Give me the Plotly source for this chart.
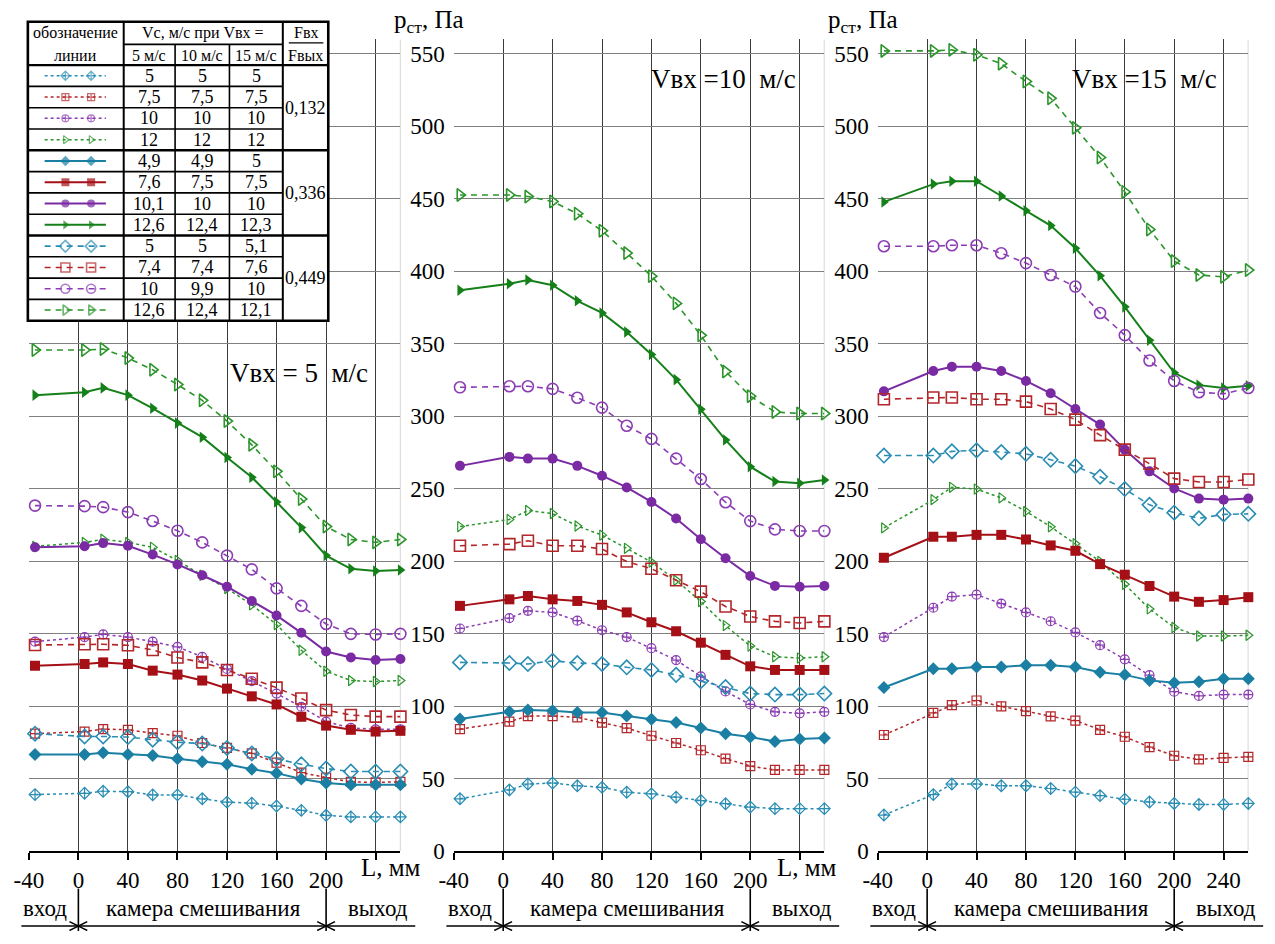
import plotly.graph_objects as go

W, H = 1275, 944
FONT = "Liberation Serif"

# measurement positions along the mixer, mm
L_MM = [-35, 5, 20, 40, 60, 80, 100, 120, 140, 160, 180, 200, 220, 240, 260]
X_TICKS = [-40, 0, 40, 80, 120, 160, 200, 240]
Y_TICKS = [0, 50, 100, 150, 200, 250, 300, 350, 400, 450, 500, 550]

# static pressure, Pa — inlet velocity 5 m/s
v5_f132_cyan = [39.0, 39.9, 41.3, 41.0, 38.8, 38.8, 36.1, 33.8, 33.1, 31.1, 28.1, 24.7, 23.6, 23.6, 23.6]
v5_f132_red = [81.0, 82.5, 84.2, 83.7, 81.4, 79.6, 74.6, 71.2, 67.4, 61.0, 54.2, 50.8, 47.8, 47.4, 47.8]
v5_f132_purple = [144.5, 147.7, 149.5, 147.7, 144.5, 140.9, 134.0, 125.7, 117.3, 108.7, 99.6, 89.4, 85.0, 84.0, 84.0]
v5_f132_green = [210.3, 213.0, 215.2, 213.0, 209.6, 200.5, 190.3, 181.2, 169.9, 156.3, 138.6, 124.1, 117.7, 117.0, 117.7]
v5_f336_cyan = [66.7, 66.7, 67.8, 66.7, 66.0, 63.8, 61.7, 59.9, 56.5, 53.8, 49.7, 47.0, 45.8, 45.8, 45.8]
v5_f336_red = [127.9, 129.1, 130.2, 129.1, 124.5, 121.8, 117.7, 112.1, 106.8, 101.2, 92.7, 86.6, 83.7, 82.5, 83.0]
v5_f336_purple = [209.6, 210.3, 212.5, 210.7, 204.6, 197.8, 190.3, 182.4, 172.6, 162.6, 150.6, 137.7, 133.6, 131.8, 132.5]
v5_f336_green = [314.6, 316.6, 319.6, 314.6, 305.5, 295.3, 285.6, 271.5, 257.9, 240.9, 223.2, 203.9, 194.8, 193.2, 193.9]
v5_f449_cyan = [81.0, 79.1, 79.1, 78.7, 76.9, 75.1, 74.2, 71.2, 67.4, 63.8, 59.9, 57.0, 54.9, 54.9, 54.9]
v5_f449_red = [142.2, 142.7, 142.7, 142.0, 138.8, 133.6, 130.2, 125.0, 118.9, 112.8, 105.3, 97.3, 93.9, 92.8, 92.8]
v5_f449_purple = [238.4, 238.0, 237.3, 233.9, 227.8, 221.0, 213.0, 203.9, 194.4, 181.3, 169.2, 156.7, 149.9, 149.5, 149.9]
v5_f449_green = [345.7, 345.7, 346.4, 340.2, 332.1, 321.9, 311.0, 296.7, 280.3, 262.0, 242.9, 223.9, 215.0, 213.0, 215.0]

# inlet velocity 10 m/s
v10_f132_cyan = [36.1, 42.2, 46.3, 47.0, 45.1, 44.0, 40.6, 39.5, 37.2, 34.9, 32.7, 30.4, 29.3, 29.3, 29.3]
v10_f132_red = [84.2, 89.3, 93.2, 93.2, 92.3, 88.7, 84.9, 79.6, 74.6, 69.6, 63.8, 58.7, 56.0, 56.0, 56.0]
v10_f132_purple = [153.6, 160.8, 165.8, 164.7, 159.0, 152.4, 147.7, 140.0, 131.8, 120.6, 110.2, 101.2, 96.1, 95.1, 96.1]
v10_f132_green = [223.9, 228.8, 235.0, 232.9, 224.3, 218.0, 208.9, 199.4, 186.9, 172.2, 155.6, 141.5, 134.1, 133.2, 134.1]
v10_f336_cyan = [91.2, 96.1, 97.3, 96.8, 95.7, 95.7, 93.2, 91.0, 88.7, 84.9, 81.0, 78.7, 75.7, 77.4, 78.0]
v10_f336_red = [169.2, 173.7, 176.0, 173.7, 172.6, 169.9, 164.7, 157.9, 151.7, 143.8, 135.4, 127.5, 125.0, 125.0, 125.0]
v10_f336_purple = [265.8, 272.0, 270.8, 270.8, 265.8, 259.0, 250.9, 240.9, 229.5, 215.2, 202.1, 189.8, 183.0, 182.4, 183.0]
v10_f336_green = [387.0, 391.5, 394.0, 390.4, 379.7, 371.3, 358.1, 342.7, 325.3, 304.8, 283.7, 265.2, 255.0, 253.8, 256.1]
v10_f449_cyan = [130.2, 129.8, 129.1, 131.3, 129.8, 129.1, 126.8, 125.0, 121.6, 117.2, 113.2, 108.7, 108.0, 108.0, 108.7]
v10_f449_red = [210.7, 211.8, 214.1, 210.7, 210.7, 208.4, 199.8, 194.8, 186.9, 179.0, 168.8, 161.9, 158.5, 157.4, 158.5]
v10_f449_purple = [320.0, 320.7, 320.7, 318.9, 312.8, 306.0, 293.5, 284.4, 270.8, 256.7, 240.7, 227.7, 222.0, 220.9, 220.9]
v10_f449_green = [452.7, 452.7, 451.6, 448.2, 439.8, 428.0, 412.6, 396.7, 377.9, 355.9, 330.9, 313.9, 303.0, 301.9, 301.9]

# inlet velocity 15 m/s
v15_f132_cyan = [24.9, 39.0, 46.3, 46.3, 45.1, 45.1, 43.2, 40.7, 38.3, 35.8, 33.9, 32.9, 32.2, 32.2, 32.9]
v15_f132_red = [80.1, 95.4, 100.7, 103.9, 99.8, 96.6, 93.0, 90.1, 83.7, 78.9, 71.8, 65.8, 63.3, 64.3, 65.0]
v15_f132_purple = [147.7, 167.9, 175.6, 176.9, 170.8, 164.7, 158.6, 150.9, 142.1, 132.3, 121.4, 110.0, 107.1, 108.0, 108.0]
v15_f132_green = [223.0, 242.5, 251.0, 249.8, 243.7, 234.4, 223.8, 212.1, 199.9, 184.1, 167.1, 154.3, 148.4, 148.4, 148.9]
v15_f336_cyan = [112.9, 125.8, 125.8, 127.0, 127.0, 128.2, 128.2, 127.0, 123.4, 121.6, 117.8, 116.1, 116.8, 119.0, 119.0]
v15_f336_red = [202.4, 216.9, 216.9, 218.2, 218.2, 215.0, 210.9, 207.2, 198.0, 190.7, 182.9, 175.6, 172.0, 173.2, 175.2]
v15_f336_purple = [317.2, 331.2, 334.2, 334.2, 331.2, 324.4, 315.9, 305.0, 294.3, 277.0, 262.0, 250.2, 243.2, 242.5, 243.2]
v15_f336_green = [447.9, 460.2, 462.2, 462.2, 452.0, 441.8, 431.6, 415.9, 396.9, 375.5, 352.4, 330.0, 321.5, 319.5, 321.0]
v15_f449_cyan = [272.9, 272.9, 275.8, 276.5, 275.3, 274.1, 270.0, 265.6, 258.3, 249.8, 238.9, 233.5, 229.6, 232.3, 232.7]
v15_f449_red = [311.8, 313.0, 313.0, 311.8, 311.8, 310.1, 305.0, 297.7, 287.0, 277.0, 267.3, 257.0, 254.7, 254.7, 256.4]
v15_f449_purple = [417.3, 417.3, 418.0, 418.0, 412.5, 405.7, 397.5, 389.5, 371.3, 356.0, 338.5, 324.4, 316.6, 315.5, 319.5]
v15_f449_green = [552.1, 552.1, 552.8, 549.4, 543.3, 531.0, 519.4, 499.0, 478.6, 454.8, 428.9, 407.1, 397.5, 396.2, 400.9]

# legend table contents
VC_AT_5 = ["5", "7,5", "10", "12", "4,9", "7,6", "10,1", "12,6", "5", "7,4", "10", "12,6"]
VC_AT_10 = ["5", "7,5", "10", "12", "4,9", "7,5", "10", "12,4", "5", "7,4", "9,9", "12,4"]
VC_AT_15 = ["5", "7,5", "10", "12", "5", "7,5", "10", "12,3", "5,1", "7,6", "10", "12,1"]
AREA_RATIO = ["0,132", "0,336", "0,449"]

PANEL_TITLES = ["Vвх = 5  м/с", "Vвх =10  м/с", "Vвх =15  м/с"]
PANEL_SERIES = [
    [v5_f132_cyan, v5_f132_red, v5_f132_purple, v5_f132_green,
     v5_f336_cyan, v5_f336_red, v5_f336_purple, v5_f336_green,
     v5_f449_cyan, v5_f449_red, v5_f449_purple, v5_f449_green],
    [v10_f132_cyan, v10_f132_red, v10_f132_purple, v10_f132_green,
     v10_f336_cyan, v10_f336_red, v10_f336_purple, v10_f336_green,
     v10_f449_cyan, v10_f449_red, v10_f449_purple, v10_f449_green],
    [v15_f132_cyan, v15_f132_red, v15_f132_purple, v15_f132_green,
     v15_f336_cyan, v15_f336_red, v15_f336_purple, v15_f336_green,
     v15_f449_cyan, v15_f449_red, v15_f449_purple, v15_f449_green],
]

# line styles: one group per area ratio, one colour per nozzle velocity
COL_LIGHT = ["#2a8db3", "#b3262a", "#8b3db3", "#2b952b"]
COL_SOLID = ["#1a7fa3", "#a50f16", "#7a2aa2", "#15801a"]
GROUPS = [
    dict(dash="dot", width=1.5, colors=COL_LIGHT, size=9, lw=1.2,
         symbols=["diamond-cross-open", "square-cross-open", "circle-cross-open", "triangle-right-open"]),
    dict(dash="solid", width=2.0, colors=COL_SOLID, size=10, lw=0,
         symbols=["diamond", "square", "circle", "triangle-right"]),
    dict(dash="6px,5px", width=1.6, colors=COL_LIGHT, size=11, lw=1.6,
         symbols=["diamond-open", "square-open", "circle-open", "triangle-right-open"]),
]


def style(i):
    g = GROUPS[i // 4]
    k = i % 4
    return g, g["colors"][k], g["symbols"][k]


def py(p):
    return 1 - p / H


X_RANGE = [-40, 260]
X_DOMAINS = [[14 / W, 390 / W], [444 / W, 819 / W], [873 / W, 1248 / W]]
Y_DOMAIN = [py(863), py(40)]
Y_MAX = 560
TICK_FONT = dict(family=FONT, size=23, color="black")


def to_px(pi, x):
    """Horizontal page position of an L value in panel pi."""
    d0, d1 = X_DOMAINS[pi]
    return W * (d0 + (d1 - d0) * (x - X_RANGE[0]) / (X_RANGE[1] - X_RANGE[0]))


fig = go.Figure()

for pi, series in enumerate(PANEL_SERIES):
    sfx = "" if pi == 0 else str(pi + 1)
    for i, vals in enumerate(series):
        g, col, sym = style(i)
        fig.add_trace(go.Scatter(
            x=L_MM, y=vals, mode="lines+markers",
            xaxis="x" + sfx, yaxis="y" + sfx, cliponaxis=False,
            line=dict(color=col, width=g["width"], dash=g["dash"]),
            marker=dict(symbol=sym, size=g["size"], color=col,
                        line=dict(color=col, width=g["lw"])),
            showlegend=False, hoverinfo="skip",
        ))

# full-figure pixel frame for the legend table
ROW_TOP = 66.0
ROW_H = 21.6
for r in range(12):
    g, col, sym = style(r)
    yc = ROW_TOP + ROW_H * (r + 0.5)
    fig.add_trace(go.Scatter(
        x=[30, 51, 77, 92], y=[yc] * 4, mode="lines+markers",
        xaxis="x4", yaxis="y4", cliponaxis=False,
        line=dict(color=col, width=g["width"], dash=g["dash"]),
        marker=dict(symbol=sym, size=[0, g["size"] - 2, g["size"] - 2, 0], color=col,
                    line=dict(color=col, width=g["lw"])),
        showlegend=False, hoverinfo="skip",
    ))

layout = dict(
    width=W, height=H, margin=dict(l=0, r=0, t=0, b=0, pad=0), autosize=False,
    paper_bgcolor="white", plot_bgcolor="rgba(0,0,0,0)",
    showlegend=False, font=dict(family=FONT, color="black", size=22),
)

for pi in range(3):
    n = "" if pi == 0 else str(pi + 1)
    vals = X_TICKS if pi == 2 else X_TICKS[:-1]
    xa = dict(
        domain=X_DOMAINS[pi], range=X_RANGE, anchor="y" + n,
        tickmode="array", tickvals=vals, ticktext=[str(v) for v in vals],
        ticks="outside", ticklen=7,
        tickwidth=1.5, tickcolor="black", showline=True, linecolor="black",
        linewidth=2, showgrid=True, gridcolor="#3c3c3c", gridwidth=1.2,
        zeroline=False, tickfont=TICK_FONT, fixedrange=True,
    )
    if pi < 2:
        xa["minor"] = dict(tickmode="array", tickvals=[240], ticks="outside", ticklen=7,
                           tickwidth=1.5, tickcolor="black", showgrid=True,
                           gridcolor="#3c3c3c", gridwidth=1.2)
    layout["xaxis" + n] = xa
    layout["yaxis" + n] = dict(
        domain=Y_DOMAIN, range=[0, Y_MAX], anchor="x" + n,
        tickvals=Y_TICKS, ticks="", showgrid=True, gridcolor="#808080",
        gridwidth=1, zeroline=False, showline=False,
        showticklabels=pi > 0, ticklabelstandoff=8,
        tickfont=TICK_FONT, fixedrange=True,
    )

layout["xaxis4"] = dict(domain=[0, 1], range=[0, W], anchor="y4", visible=False, fixedrange=True)
layout["yaxis4"] = dict(domain=[0, 1], range=[H, 0], anchor="x4", visible=False, fixedrange=True)

shapes = []
annotations = []

# right frame line of every panel
for pi in range(3):
    n = "" if pi == 0 else str(pi + 1)
    shapes.append(dict(type="line", xref="x" + n, yref="y" + n, x0=260, x1=260,
                       y0=0, y1=Y_MAX, line=dict(color="#a8a8a8", width=1), layer="below"))

# legend table: white background, rules and text
TX = [13, 110, 162, 217, 271, 317]
TY0, TY1, TYH = 22, 325.2, 45
shapes.append(dict(type="rect", xref="x4", yref="y4", x0=TX[0], x1=TX[-1], y0=TY0, y1=TY1,
                   fillcolor="white", line=dict(width=0), layer="below"))


def pline(x0, y0, x1, y1, w=1.6):
    shapes.append(dict(type="line", xref="x4", yref="y4", x0=x0, y0=y0, x1=x1, y1=y1,
                       line=dict(color="black", width=w), layer="above"))


pline(TX[1], TY0, TX[1], TY1, 2)
pline(TX[4], TY0, TX[4], TY1, 2)
pline(TX[2], TYH, TX[2], TY1)
pline(TX[3], TYH, TX[3], TY1)
pline(TX[1], TYH, TX[4], TYH)
pline(TX[0], ROW_TOP, TX[5], ROW_TOP, 2.4)
for k in range(1, 12):
    yk = ROW_TOP + ROW_H * k
    if k % 4 == 0:
        pline(TX[0], yk, TX[5], yk, 2.6)
    else:
        pline(TX[0], yk, TX[4], yk, 1.6)
shapes.append(dict(type="rect", xref="x4", yref="y4", x0=TX[0], x1=TX[-1], y0=TY0, y1=TY1,
                   line=dict(color="black", width=2.6), layer="above"))
pline(277, 43.5, 312, 43.5, 1.2)


def text(x, y, s, size=18, **kw):
    annotations.append(dict(x=x, y=y, xref="x4", yref="y4", text=s, showarrow=False,
                            xanchor="center", yanchor="middle",
                            font=dict(family=FONT, size=size, color="black"), **kw))


text(61, 33, "обозначение", 16)
text(61, 56, "линии", 16)
text(190.5, 33, "Vc, м/с при Vвх =", 16)
text(136, 56, "5 м/с", 16)
text(189.5, 56, "10 м/с", 16)
text(244, 56, "15 м/с", 16)
text(294, 33, "Fвх", 16)
text(294, 56, "Fвых", 16)
for r in range(12):
    yc = ROW_TOP + ROW_H * (r + 0.5)
    text(136, yc, VC_AT_5[r])
    text(189.5, yc, VC_AT_10[r])
    text(244, yc, VC_AT_15[r])
for gi, lab in enumerate(AREA_RATIO):
    text(294, ROW_TOP + ROW_H * (4 * gi + 2), lab)

# axis titles and panel captions
text(419, 22, "p<sub>ст</sub>, Па", 25)
text(858, 22, "p<sub>ст</sub>, Па", 25)
text(to_px(0, 252), 880, "L, мм", 25)
text(to_px(1, 246), 880, "L, мм", 25)
text(287, 378, PANEL_TITLES[0], 27)
text(717, 80, PANEL_TITLES[1], 27)
text(1143, 80, PANEL_TITLES[2], 27)

# zones of the mixer under each panel: inlet, mixing chamber, outlet
Y_ZONE_TXT = 921
Y_ARROW = 939
HEAD_L, HEAD_W = 9, 4.5


def head(xtip, direction):
    xb = xtip - direction * HEAD_L
    shapes.append(dict(type="path", xref="x4", yref="y4",
                       path=f"M {xb},{Y_ARROW - HEAD_W} L {xtip},{Y_ARROW} L {xb},{Y_ARROW + HEAD_W}",
                       line=dict(color="black", width=1.5), layer="above"))


for pi in range(3):
    x_in, x_start, x_end, x_out = (to_px(pi, v) for v in (-46, 0, 200, 272))
    for xb in (x_start, x_end):
        pline(xb, 901, xb, 944, 1.6)
    pline(x_in, Y_ARROW, x_start, Y_ARROW, 1.5)
    pline(x_start, Y_ARROW, x_end, Y_ARROW, 1.5)
    pline(x_end, Y_ARROW, x_out, Y_ARROW, 1.5)
    head(x_start, 1)
    head(x_start, -1)
    head(x_end, 1)
    head(x_end, -1)
    text(to_px(pi, -27), Y_ZONE_TXT, "вход", 23)
    text(to_px(pi, 101), Y_ZONE_TXT, "камера смешивания", 23)
    text(to_px(pi, 242), Y_ZONE_TXT, "выход", 23)

layout["shapes"] = shapes
layout["annotations"] = annotations
fig.update_layout(**layout)

fig.write_html(
    "out.html",
    post_script="document.body.style.margin='0';document.body.style.padding='0';",
)
